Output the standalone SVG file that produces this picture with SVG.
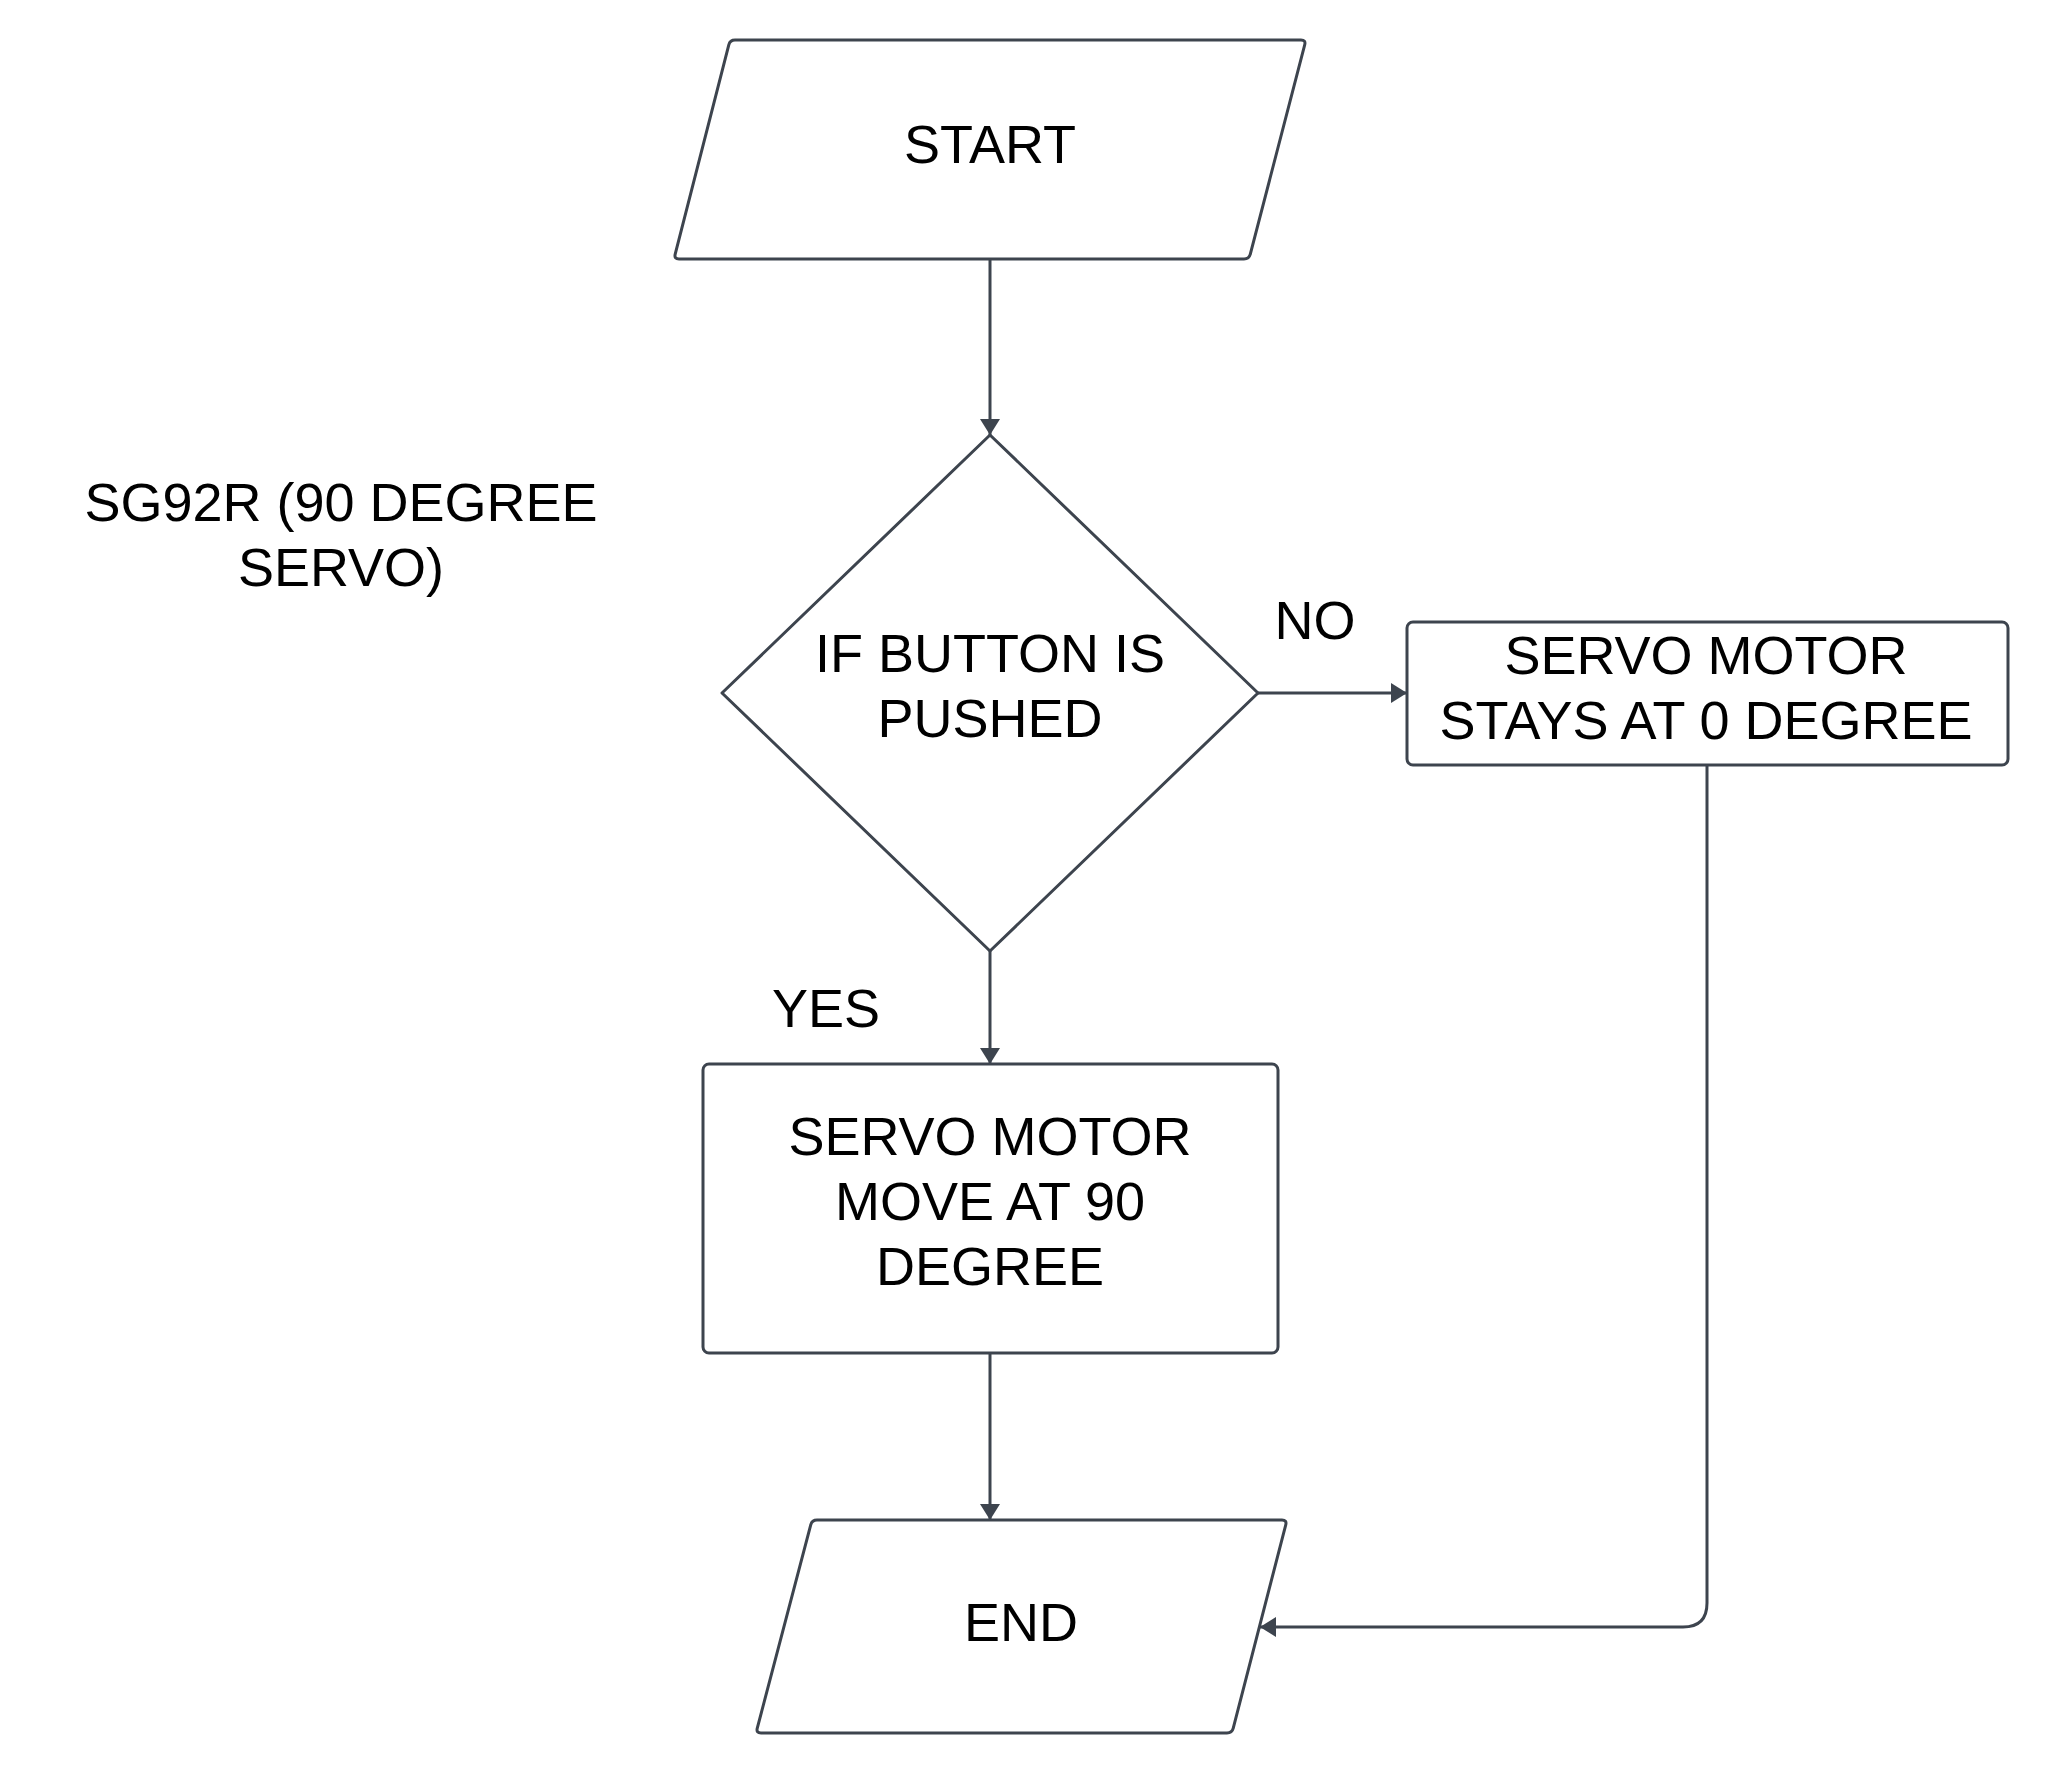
<svg xmlns="http://www.w3.org/2000/svg" width="2048" height="1774" viewBox="0 0 2048 1774">
<defs>
<style>
.shape{fill:#ffffff;stroke:#3d444e;stroke-width:3;stroke-linejoin:round}
.conn{fill:none;stroke:#3d444e;stroke-width:3}
text{font-family:"Liberation Sans",Arial,sans-serif;font-size:54px;fill:#000000;text-anchor:middle}
</style>
<marker id="arrow" viewBox="0 0 16 20" refX="16" refY="10" markerWidth="16" markerHeight="20" markerUnits="userSpaceOnUse" orient="auto">
<path d="M0,0 L16,10 L0,20 Z" fill="#3d444e"/>
</marker>
</defs>
<rect width="2048" height="1774" fill="#ffffff"/>
<g id="connectors">
<path class="conn" d="M990,259 V435" marker-end="url(#arrow)"/>
<path class="conn" d="M1258,693 H1407" marker-end="url(#arrow)"/>
<path class="conn" d="M990,951 V1064" marker-end="url(#arrow)"/>
<path class="conn" d="M990,1353 V1520" marker-end="url(#arrow)"/>
<path class="conn" d="M1707,765 V1603 Q1707,1627 1683,1627 H1260" marker-end="url(#arrow)"/>
</g>
<g id="start">
<path class="shape" d="M735,40 H1301 Q1306,40 1304.7,44.8 L1250.3,254.2 Q1249,259 1244,259 H679 Q674,259 675.2,254.2 L728.8,44.8 Q730,40 735,40 Z"/>
<text x="990" y="163">START</text>
</g>
<g id="decision">
<polygon class="shape" points="990,435 1258,693 990,951 722,693"/>
<text x="990" y="672">IF BUTTON IS</text>
<text x="990" y="737">PUSHED</text>
</g>
<g id="stay">
<rect class="shape" x="1407" y="622" width="601" height="143" rx="6"/>
<text x="1706" y="674">SERVO MOTOR</text>
<text x="1706" y="739">STAYS AT 0 DEGREE</text>
</g>
<g id="move">
<rect class="shape" x="703" y="1064" width="575" height="289" rx="6"/>
<text x="990" y="1155">SERVO MOTOR</text>
<text x="990" y="1220">MOVE AT 90</text>
<text x="990" y="1285">DEGREE</text>
</g>
<g id="end">
<path class="shape" d="M817,1520 H1282 Q1287,1520 1285.75,1524.84 L1233.25,1728.16 Q1232,1733 1227,1733 H761 Q756,1733 757.27,1728.16 L810.73,1524.84 Q812,1520 817,1520 Z"/>
<text x="1021" y="1641">END</text>
</g>
<g id="labels">
<text x="1315" y="639">NO</text>
<text x="826" y="1027">YES</text>
<text x="341" y="521">SG92R (90 DEGREE</text>
<text x="341" y="586">SERVO)</text>
</g>
</svg>
